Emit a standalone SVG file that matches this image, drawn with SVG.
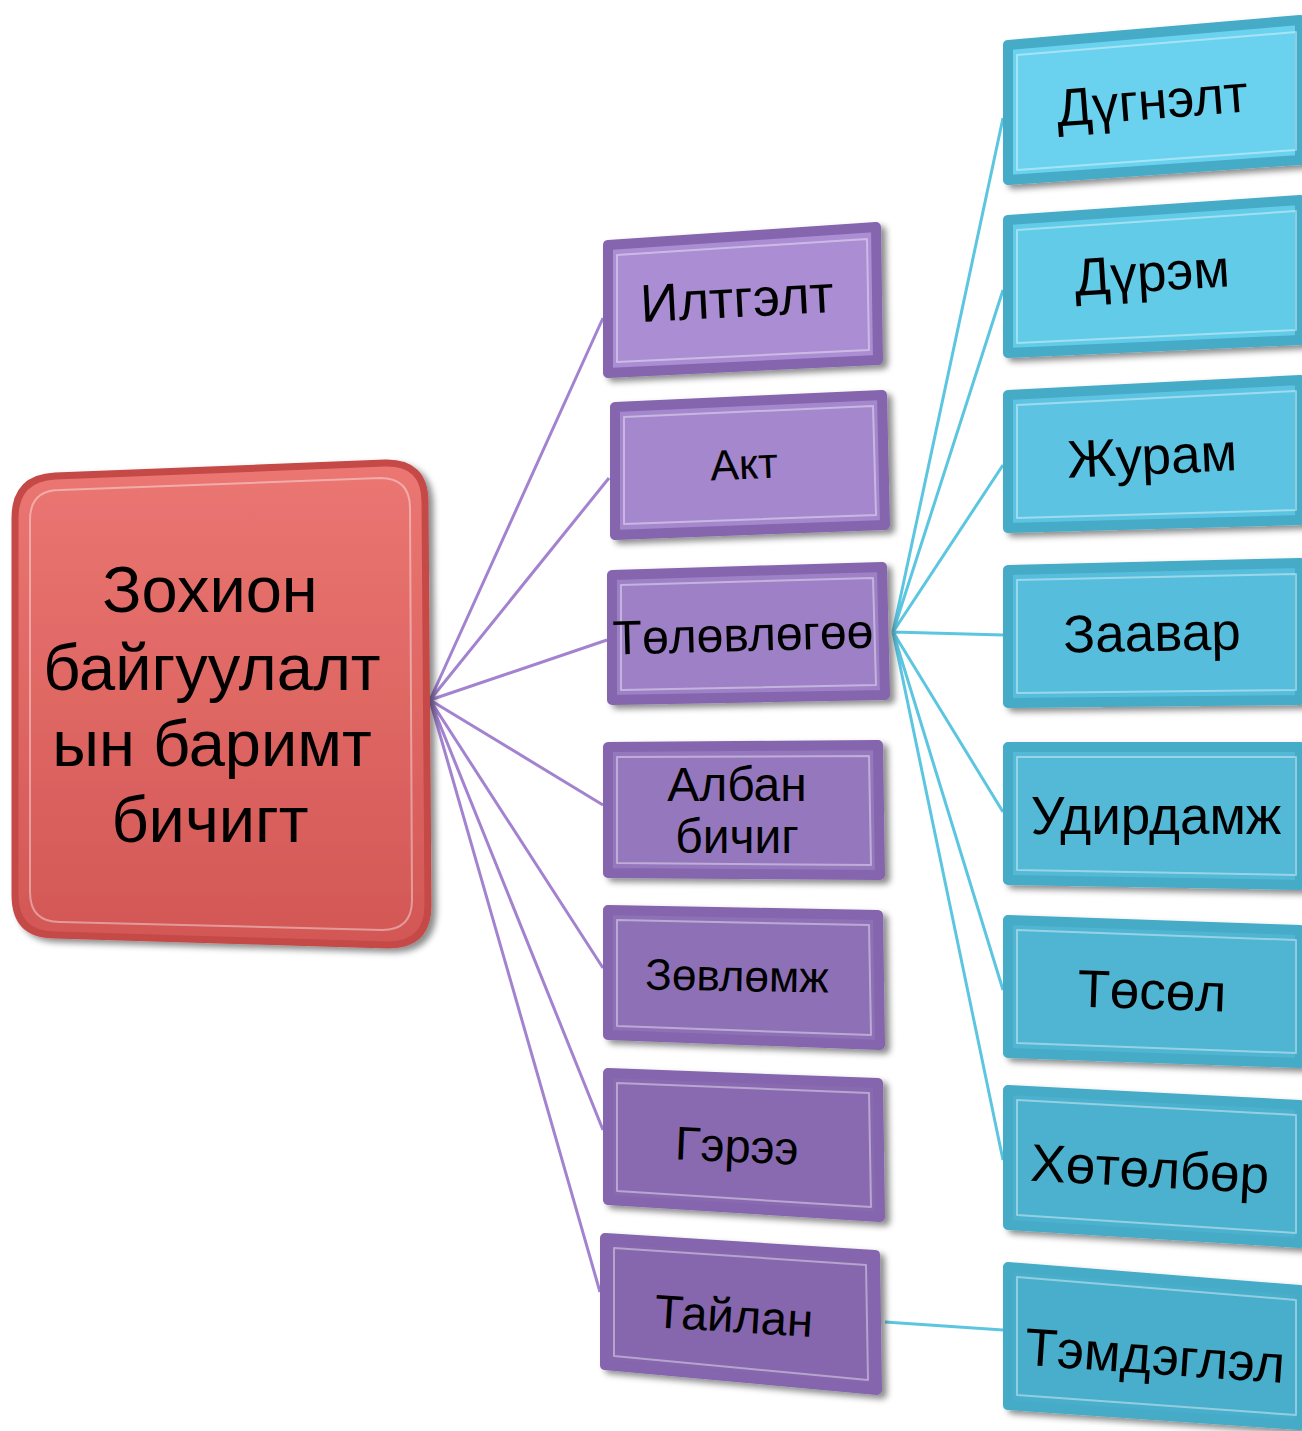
<svg xmlns="http://www.w3.org/2000/svg" width="1302" height="1431" viewBox="0 0 1302 1431">
<defs>
<style>
text{font-family:"Liberation Sans",Arial,sans-serif;fill:#000;text-anchor:middle}
.pl{stroke:#a383cf;stroke-width:3;fill:none}
.cl{stroke:#5cc6e0;stroke-width:3;fill:none}
.pb{stroke:#8465ae;stroke-width:10;stroke-linejoin:round;filter:url(#sh)}
.cb{stroke:#45abc7;stroke-width:10;stroke-linejoin:round;filter:url(#sh)}
.hl{fill:none;stroke:#fff;stroke-opacity:.4;stroke-width:2;stroke-linejoin:round}
.pt{font-size:47px}
.ct{font-size:53px}
</style>
<linearGradient id="rg" x1="0" y1="0" x2="0" y2="1"><stop offset="0" stop-color="#eb7672"/><stop offset="1" stop-color="#d25755"/></linearGradient>
<filter id="sh" x="-10%" y="-10%" width="125%" height="130%"><feDropShadow dx="5" dy="4" stdDeviation="3" flood-color="#000" flood-opacity=".45"/></filter>
</defs>
<g id="connectors">
<path class="pl" d="M430,700 L603,318 M430,700 L609,478 M430,700 L607,640 M430,700 L603,805 M430,700 L603,968 M430,700 L603,1130 M430,700 L600,1292"/>
<path class="cl" d="M893,632 L1003,118 M893,632 L1003,290 M893,632 L1003,465 M893,632 L1003,635 M893,632 L1003,812 M893,632 L1003,990 M893,632 L1003,1160 M885,1322 L1003,1330"/>
</g>
<g id="root">
<path d="M55,476 L385,463 Q425,462 425,502 L428,905 Q428,945 388,945 L55,935 Q15,935 15,895 L15,518 Q15,478 55,476 Z" fill="url(#rg)" stroke="#c44947" stroke-width="7" filter="url(#sh)"/>
<path class="hl" d="M60,490 L380,478 Q410,478 410,508 L412,900 Q412,930 382,930 L60,922 Q30,922 30,892 L30,520 Q30,490 60,490 Z"/>
<text font-size="65" x="210" y="612">Зохион</text>
<text font-size="65" x="212" y="690">байгуулалт</text>
<text font-size="65" x="212" y="766">ын баримт</text>
<text font-size="65" x="210" y="842">бичигт</text>
</g>
<g id="n-iltgelt">
<polygon class="pb" fill="#ab8dd4" points="608,245 876,227 878,360 608,373"/>
<polygon class="hl" points="617,255 867,239 869,350 617,362"/>
<text font-size="53" x="737" y="317" transform="rotate(-3 737 300)">Илтгэлт</text>
</g>
<g id="n-akt">
<polygon class="pb" fill="#a487cd" points="615,407 882,395 885,525 615,535"/>
<polygon class="hl" points="624,417 873,406 876,515 624,524"/>
<text font-size="43" x="744" y="479" transform="rotate(-2.5 744 465)">Акт</text>
</g>
<g id="n-tolovlogoo">
<polygon class="pb" fill="#9d80c6" points="612,575 882,567 885,695 612,700"/>
<polygon class="hl" points="621,585 873,578 876,685 621,690"/>
<text font-size="48" x="743" y="651" transform="rotate(-1.5 743 635)">Төлөвлөгөө</text>
</g>
<g id="n-alban">
<polygon class="pb" fill="#9577be" points="608,747 878,745 880,875 608,873"/>
<polygon class="hl" points="617,757 869,756 871,865 617,863"/>
<text font-size="48" x="737" y="801">Албан</text>
<text font-size="48" x="737" y="853">бичиг</text>
</g>
<g id="n-zovlomzh">
<polygon class="pb" fill="#8e70b7" points="608,910 878,915 880,1045 608,1035"/>
<polygon class="hl" points="617,920 869,925 871,1035 617,1026"/>
<text font-size="44" x="737" y="991" transform="rotate(1 737 975)">Зөвлөмж</text>
</g>
<g id="n-geree">
<polygon class="pb" fill="#896bb1" points="608,1073 878,1083 880,1217 608,1200"/>
<polygon class="hl" points="617,1083 869,1093 871,1207 617,1191"/>
<text class="pt" x="737" y="1162" transform="rotate(2.5 737 1145)">Гэрээ</text>
</g>
<g id="n-tailan">
<polygon class="pb" fill="#8666ad" points="605,1238 875,1255 877,1390 605,1365"/>
<polygon class="hl" points="614,1248 866,1265 868,1380 614,1356"/>
<text class="pt" x="734" y="1332" transform="rotate(3.5 734 1315)">Тайлан</text>
</g>
<g id="c-dugnelt">
<polygon class="cb" fill="#6ad2ef" points="1008,45 1300,20 1300,160 1008,180"/>
<polygon class="hl" points="1017,55 1296,32 1296,150 1017,170"/>
<text class="ct" x="1152" y="119" transform="rotate(-4.5 1152 100)">Дүгнэлт</text>
</g>
<g id="c-durem">
<polygon class="cb" fill="#62cbe8" points="1008,220 1300,200 1300,340 1008,353"/>
<polygon class="hl" points="1017,230 1296,211 1296,330 1017,343"/>
<text class="ct" x="1152" y="291" transform="rotate(-3.5 1152 272)">Дүрэм</text>
</g>
<g id="c-zhuram">
<polygon class="cb" fill="#5cc4e2" points="1008,395 1300,380 1300,520 1008,528"/>
<polygon class="hl" points="1017,405 1296,391 1296,510 1017,518"/>
<text class="ct" x="1152" y="474" transform="rotate(-2.5 1152 455)">Журам</text>
</g>
<g id="c-zaavar">
<polygon class="cb" fill="#56bedc" points="1008,570 1300,563 1300,700 1008,703"/>
<polygon class="hl" points="1017,580 1296,574 1296,690 1017,693"/>
<text class="ct" x="1152" y="651" transform="rotate(-1 1152 632)">Заавар</text>
</g>
<g id="c-udirdamzh">
<polygon class="cb" fill="#52b9d6" points="1008,747 1300,747 1300,885 1008,880"/>
<polygon class="hl" points="1017,757 1296,757 1296,875 1017,870"/>
<text class="ct" x="1156" y="834">Удирдамж</text>
</g>
<g id="c-tosol">
<polygon class="cb" fill="#4fb5d2" points="1008,920 1300,930 1300,1063 1008,1053"/>
<polygon class="hl" points="1017,930 1296,940 1296,1053 1017,1043"/>
<text class="ct" x="1152" y="1009" transform="rotate(2 1152 990)">Төсөл</text>
</g>
<g id="c-khotolbor">
<polygon class="cb" fill="#4cb1ce" points="1008,1090 1300,1105 1300,1243 1008,1225"/>
<polygon class="hl" points="1017,1100 1296,1115 1296,1233 1017,1215"/>
<text class="ct" x="1150" y="1187" transform="rotate(3 1150 1168)">Хөтөлбөр</text>
</g>
<g id="c-temdeglel">
<polygon class="cb" fill="#4aaecb" points="1008,1267 1300,1290 1300,1425 1008,1405"/>
<polygon class="hl" points="1017,1277 1296,1300 1296,1415 1017,1395"/>
<text class="ct" x="1155" y="1374" transform="rotate(4 1155 1355)">Тэмдэглэл</text>
</g>
</svg>
